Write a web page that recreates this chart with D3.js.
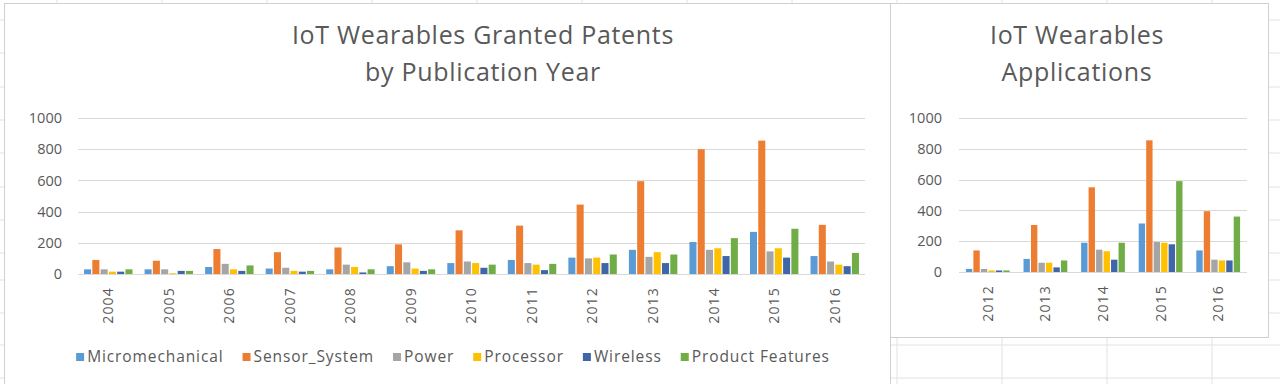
<!DOCTYPE html>
<html><head><meta charset="utf-8">
<script src="https://cdn.jsdelivr.net/npm/d3@7"></script>
<style>
body{margin:0;background:#fff;overflow:hidden;}
text{font-family:"Open Sans","Noto Sans",sans-serif;}
</style>
</head><body><svg id="c" width="1280" height="384"></svg>
<script>
// ---------- DATA ----------
const seriesNames = ["Micromechanical","Sensor_System","Power","Processor","Wireless","Product Features"];
const seriesColors = ["#5B9BD5","#ED7D31","#A5A5A5","#FFC000","#3F66A8","#70AD47"];
const yTicks = [0,200,400,600,800,1000];

const grantedYears = ["2004","2005","2006","2007","2008","2009","2010","2011","2012","2013","2014","2015","2016"];
const grantedMicromechanical = [30,30,45,35,30,50,70,90,105,155,205,270,115];
const grantedSensorSystem   = [90,85,160,140,170,190,280,310,445,595,800,855,315];
const grantedPower          = [30,30,65,40,60,75,80,70,100,110,155,145,80];
const grantedProcessor      = [15,5,30,20,45,35,70,60,105,140,165,165,60];
const grantedWireless       = [15,20,20,15,10,20,40,25,70,70,115,105,50];
const grantedProductFeat    = [30,20,55,20,30,30,60,65,125,125,230,290,135];

const appYears = ["2012","2013","2014","2015","2016"];
const appMicromechanical = [20,85,190,315,140];
const appSensorSystem    = [140,305,550,855,395];
const appPower           = [20,60,145,195,80];
const appProcessor       = [10,60,135,190,75];
const appWireless        = [10,30,80,180,75];
const appProductFeat     = [10,75,190,590,360];

const grantedSeries = [grantedMicromechanical,grantedSensorSystem,grantedPower,grantedProcessor,grantedWireless,grantedProductFeat];
const appSeries = [appMicromechanical,appSensorSystem,appPower,appProcessor,appWireless,appProductFeat];

// ---------- DRAW ----------
const svg = d3.select("#c");
const textCol = "#595959";
const gridCol = "#d9d9d9";

// spreadsheet background grid
const bg = svg.append("g");
const colLines = [57,162,267,372,477,582,687,792,897,1002,1107,1212];
const rowLines = [20,53,87,120,153,187,220,253,280,313,345,378];
colLines.forEach(x=>bg.append("line").attr("x1",x).attr("x2",x).attr("y1",0).attr("y2",384).attr("stroke","#e2e2e2"));
rowLines.forEach(y=>bg.append("line").attr("x1",0).attr("x2",1280).attr("y1",y).attr("y2",y).attr("stroke","#e2e2e2"));

// panels
svg.append("rect").attr("x",4.5).attr("y",3.5).attr("width",886).attr("height",400)
  .attr("fill","#fff").attr("stroke","#d0d0d0");
svg.append("rect").attr("x",890.5).attr("y",3.5).attr("width",378).attr("height",334)
  .attr("fill","#fff").attr("stroke","#d0d0d0");

function drawChart(cfg){
  const g = svg.append("g");
  const x = d3.scaleBand().domain(cfg.cats).range([cfg.x0,cfg.x1]).paddingInner(cfg.pad).paddingOuter(cfg.pad/2);
  const xi = d3.scaleBand().domain(d3.range(seriesNames.length)).range([0,x.bandwidth()]).paddingInner(0.15);
  const y = d3.scaleLinear().domain([0,1000]).range([cfg.yb,cfg.yt]);

  // gridlines
  g.append("g").selectAll("line").data(yTicks).join("line")
    .attr("x1",cfg.x0).attr("x2",cfg.x1)
    .attr("y1",d=>Math.round(y(d))+0.5).attr("y2",d=>Math.round(y(d))+0.5)
    .attr("stroke",gridCol).attr("stroke-width",1.2);

  // y axis labels
  const ya = g.append("g").attr("transform",`translate(${cfg.yLabelX},0)`)
    .call(d3.axisLeft(y).tickValues(yTicks).tickFormat(d3.format("d")).tickSize(0).tickPadding(0));
  ya.select(".domain").remove();
  ya.selectAll("text").attr("fill",textCol).style("font-size","14.5px").style("font-family","'Open Sans',sans-serif");

  // bars
  cfg.series.forEach((vals,si)=>{
    g.append("g").selectAll("rect").data(vals).join("rect")
      .attr("x",(d,i)=>x(cfg.cats[i])+xi(si))
      .attr("width",xi.bandwidth())
      .attr("y",d=>y(d))
      .attr("height",d=>y(0)-y(d))
      .attr("fill",seriesColors[si]);
  });

  // x axis
  const xa = g.append("g").attr("transform",`translate(0,${cfg.yb})`)
    .call(d3.axisBottom(x).tickSize(0).tickPadding(0));
  xa.select(".domain").remove();
  xa.selectAll("text")
    .attr("transform","rotate(-90)")
    .attr("x",-13).attr("y",0).attr("dy","0.35em")
    .style("text-anchor","end")
    .style("letter-spacing","1.2px")
    .attr("fill",textCol).style("font-size","14px").style("font-family","'Open Sans',sans-serif");

  // title
  const t = g.append("text").attr("x",cfg.titleX).attr("text-anchor","middle")
    .attr("fill",textCol).style("font-size","25px").style("letter-spacing","0.7px");
  cfg.title.forEach((line,i)=>t.append("tspan").attr("x",cfg.titleX).attr("y",44+i*37).text(line));
}

drawChart({cats:grantedYears,series:grantedSeries,x0:78,x1:865,yb:274,yt:118,pad:0.2,yLabelX:62,
  titleX:483,title:["IoT Wearables Granted Patents","by Publication Year"]});
drawChart({cats:appYears,series:appSeries,x0:959,x1:1247,yb:272,yt:118,pad:0.24,yLabelX:942,
  titleX:1077,title:["IoT Wearables","Applications"]});

// legend
const leg = svg.append("g");
let items = [];
let cx = 0;
seriesNames.forEach((n,i)=>{
  const it = leg.append("g");
  it.append("rect").attr("x",0).attr("y",-4).attr("width",8).attr("height",8).attr("fill",seriesColors[i]);
  const tx = it.append("text").attr("x",11).attr("y",0).attr("dy","0.35em").attr("fill",textCol)
    .style("font-size","15.5px").style("letter-spacing","0.9px").text(n);
  const w = 11 + tx.node().getComputedTextLength();
  items.push({it,x:cx});
  cx += w + 19;
});
const total = cx - 19;
const start = 453 - total/2;
items.forEach(d=>d.it.attr("transform",`translate(${start+d.x},357)`));
</script>
</body></html>
